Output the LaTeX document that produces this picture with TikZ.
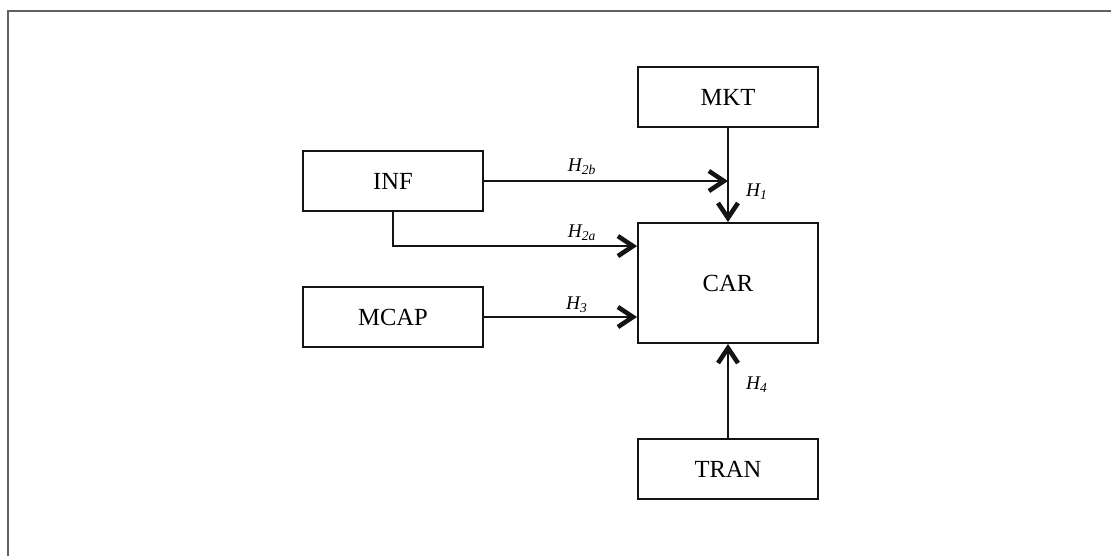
\documentclass[tikz,border=0pt]{standalone}
\usepackage{fontspec}
\setmainfont{Liberation Serif}
\usepackage{tikz}
\usetikzlibrary{arrows.meta, positioning, calc}
\definecolor{FrameInk}{HTML}{606060}
\definecolor{BoxInk}{HTML}{141414}

\begin{document}
\begin{tikzpicture}[
    x=0.02cm, y=-0.02cm,
    font=\fontsize{14}{16}\selectfont,
    var/.style={
      draw=BoxInk,
      line width=1.1pt,
      fill=white,
      minimum width=3.6cm,
      minimum height=1.2cm,
      inner sep=0pt,
    },
    link/.style={
      draw=BoxInk,
      line width=1.1pt,
      -{Straight Barb[length=0.3cm, width=0.4cm, line width=2.6pt]},
    },
    hyp/.style={font=\fontsize{11}{13}\selectfont\itshape},
  ]
    \useasboundingbox (0,0) rectangle (1111,556);
    \draw[FrameInk, line width=1.4pt] (8,556) |- (1111,11);

    \node[var] (mkt) at (728,97) {MKT};
    \node[var] (inf) at (393,181) {INF};
    \node[var] (mcap) at (393,317) {MCAP};
    \node[var, minimum height=2.4cm] (car) at (728,283) {CAR};
    \node[var] (tran) at (728,469) {TRAN};

    % hypothesised paths into CAR
    \coordinate (infhit) at (inf.east -| mkt.south);
    \coordinate (infbend) at ($(car.north west)+(0,24)$);
    \draw[link] (mkt.south) -- (car.north);
    \draw[link] (inf.east) -- (infhit);
    \draw[link] (inf.south) |- (infbend);
    \draw[link] (mcap.east) -- (mcap.east -| car.west);
    \draw[link] (tran.north) -- (car.south);

    \node[hyp] (h1) at (757,192) {H\textsubscript{1}};
    \node[hyp] (h2b) at (582,167) {H\textsubscript{2b}};
    \node[hyp] (h2a) at (582,233) {H\textsubscript{2a}};
    \node[hyp] (h3) at (577,305) {H\textsubscript{3}};
    \node[hyp] (h4) at (757,385) {H\textsubscript{4}};
  \end{tikzpicture}
\end{document}
